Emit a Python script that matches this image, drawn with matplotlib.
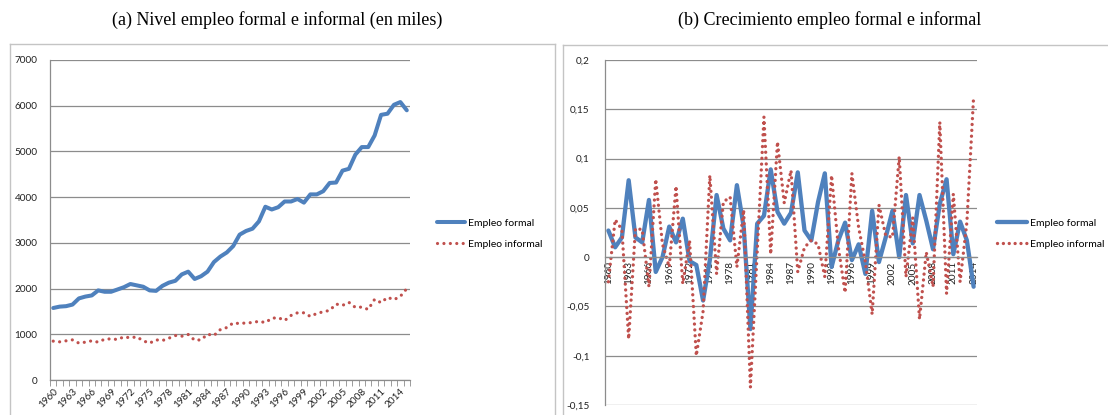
import numpy as np
import matplotlib
matplotlib.use("Agg")
import matplotlib.pyplot as plt
from matplotlib.lines import Line2D

# levels (thousands), 1960-2015
years = list(range(1960, 2016))
formal = [1575, 1605, 1615, 1650, 1785, 1825, 1850, 1960, 1930, 1930,
          1980, 2030, 2100, 2070, 2040, 1960, 1950, 2060, 2130, 2170,
          2310, 2370, 2210, 2270, 2370, 2580, 2700, 2790, 2930, 3180,
          3260, 3310, 3470, 3790, 3730, 3780, 3905, 3905, 3960, 3880,
          4060, 4060, 4130, 4310, 4320, 4580, 4620, 4930, 5095, 5095,
          5350, 5800, 5825, 6020, 6080, 5900]
informal = [850, 835, 857, 878, 806, 828, 857, 828, 893, 900,
            886, 944, 922, 944, 857, 806, 878, 864, 915, 973,
            958, 995, 871, 878, 1002, 973, 1103, 1147, 1249, 1234,
            1249, 1256, 1285, 1256, 1350, 1365, 1301, 1412, 1470, 1470,
            1390, 1456, 1492, 1522, 1661, 1632, 1698, 1588, 1595, 1544,
            1765, 1691, 1808, 1757, 1830, 2000]

# growth rates, labelled 1960-2014
growth_years = list(range(1960, 2015))
formal_growth = [0.027, 0.010, 0.020, 0.078, 0.020, 0.015, 0.058, -0.015, 0.000, 0.031,
                 0.015, 0.039, -0.004, -0.008, -0.044, -0.003, 0.063, 0.029, 0.017, 0.073,
                 0.031, -0.073, 0.034, 0.042, 0.089, 0.046, 0.034, 0.045, 0.086, 0.027,
                 0.017, 0.056, 0.085, -0.010, 0.017, 0.035, -0.003, 0.013, -0.017, 0.047,
                 -0.005, 0.020, 0.047, 0.000, 0.063, 0.014, 0.063, 0.037, 0.008, 0.054,
                 0.079, 0.003, 0.036, 0.017, -0.030]
informal_growth = [-0.025, 0.038, 0.028, -0.083, 0.029, 0.028, -0.030, 0.079, 0.013, -0.010,
                   0.072, -0.027, 0.017, -0.100, -0.055, 0.083, -0.017, 0.056, 0.061, -0.010,
                   0.048, -0.132, 0.005, 0.142, 0.003, 0.117, 0.055, 0.088, -0.015, 0.010,
                   0.017, 0.013, -0.020, 0.083, 0.010, -0.036, 0.085, 0.030, -0.005, -0.058,
                   0.053, 0.022, 0.020, 0.102, -0.020, 0.040, -0.063, 0.005, -0.030, 0.137,
                   -0.037, 0.064, -0.025, 0.035, 0.163]

yticks_a = [0, 1000, 2000, 3000, 4000, 5000, 6000, 7000]
yticks_b = [-0.15, -0.1, -0.05, 0, 0.05, 0.1, 0.15, 0.2]
ylabels_b = ["-0,15", "-0,1", "-0,05", "0", "0,05", "0,1", "0,15", "0,2"]

BLUE = "#4F81BD"
RED = "#C0504D"
GRID = "#8c8c8c"
W, H = 1108, 415

plt.rcParams['font.family'] = ['Lato', 'DejaVu Sans']
fig = plt.figure(figsize=(W / 100, H / 100), dpi=100)


def box(x0, y0, x1, y1):
    return [x0 / W, 1 - y1 / H, (x1 - x0) / W, (y1 - y0) / H]


def style(ax):
    for s in ['top', 'right']:
        ax.spines[s].set_visible(False)
    for s in ['left', 'bottom']:
        ax.spines[s].set_color(GRID)
        ax.spines[s].set_linewidth(0.9)
    ax.grid(axis='y', color=GRID, lw=0.9)
    ax.set_axisbelow(True)


# (a) levels
ax1 = fig.add_axes(box(50, 60, 410, 380))
style(ax1)
x1 = np.arange(len(years))
ax1.plot(x1, formal, color=BLUE, lw=2.9, solid_joinstyle='round', solid_capstyle='round', label='Empleo formal')
ax1.plot(x1, informal, color=RED, lw=2.3, linestyle=(0, (0.01, 2.0)), dash_capstyle='round', label='Empleo informal')
ax1.set_xlim(-0.5, len(years) - 0.5)
ax1.set_ylim(0, 7000)
ax1.set_yticks(yticks_a)
ax1.set_xticks(x1[::3], [str(y) for y in years[::3]], rotation=45, ha='right', va='top', rotation_mode='anchor')
ax1.set_xticks(np.arange(-0.5, len(years)), minor=True)
ax1.tick_params(axis='x', which='major', length=0, pad=5, labelsize=7.2, colors='#222222')
ax1.tick_params(axis='x', which='minor', length=4, color=GRID)
ax1.tick_params(axis='y', length=0, pad=9, labelsize=7.2, colors='#222222')
ax1.legend(loc='center left', bbox_to_anchor=(437 / W, 1 - 233.5 / H), bbox_transform=fig.transFigure,
           frameon=False, fontsize=7.5, handlelength=2.7, handletextpad=0.3, labelspacing=1.1,
           borderpad=0, borderaxespad=0)

# (b) growth
ax2 = fig.add_axes(box(605, 60, 977, 405))
style(ax2)
x2 = np.arange(len(growth_years))
ax2.plot(x2, formal_growth, color=BLUE, lw=3.1, solid_joinstyle='round', solid_capstyle='round', label='Empleo formal')
ax2.plot(x2, informal_growth, color=RED, lw=2.4, linestyle=(0, (0.01, 1.75)), dash_capstyle='round', label='Empleo informal')
ax2.set_xlim(-0.5, len(growth_years) - 0.5)
ax2.set_ylim(-0.15, 0.2)
ax2.set_yticks(yticks_b, ylabels_b)
ax2.spines['bottom'].set_position(('data', 0))
ax2.set_xticks(x2[::3], [str(y) for y in growth_years[::3]], rotation=90, ha='center', va='top')
ax2.tick_params(axis='x', which='major', length=0, pad=3, labelsize=7.2, colors='#222222')
ax2.tick_params(axis='y', length=0, pad=11, labelsize=7.2, colors='#222222')
ax2.legend(loc='center left', bbox_to_anchor=(997 / W, 1 - 233.5 / H), bbox_transform=fig.transFigure,
           frameon=False, fontsize=7.5, handlelength=2.9, handletextpad=0.3, labelspacing=1.1,
           borderpad=0, borderaxespad=0)

# chart frames
FRAME = "#c4c4c4"
for xs, ys in [([9.5, 555], [44.5, 44.5]), ([9.5, 9.5], [44.5, 415]), ([555, 555], [44.5, 415]),
               ([563, 1108], [45, 45]), ([563, 563], [45, 415])]:
    fig.add_artist(Line2D([x / W for x in xs], [1 - y / H for y in ys], transform=fig.transFigure,
                          color=FRAME, lw=1))

fig.text(277 / W, 1 - 20 / H, "(a) Nivel empleo formal e informal (en miles)", ha='center', va='center',
         family='Liberation Serif', fontsize=13)
fig.text(830 / W, 1 - 20 / H, "(b) Crecimiento empleo formal e informal", ha='center', va='center',
         family='Liberation Serif', fontsize=13)

fig.savefig('out.png', dpi=100)
